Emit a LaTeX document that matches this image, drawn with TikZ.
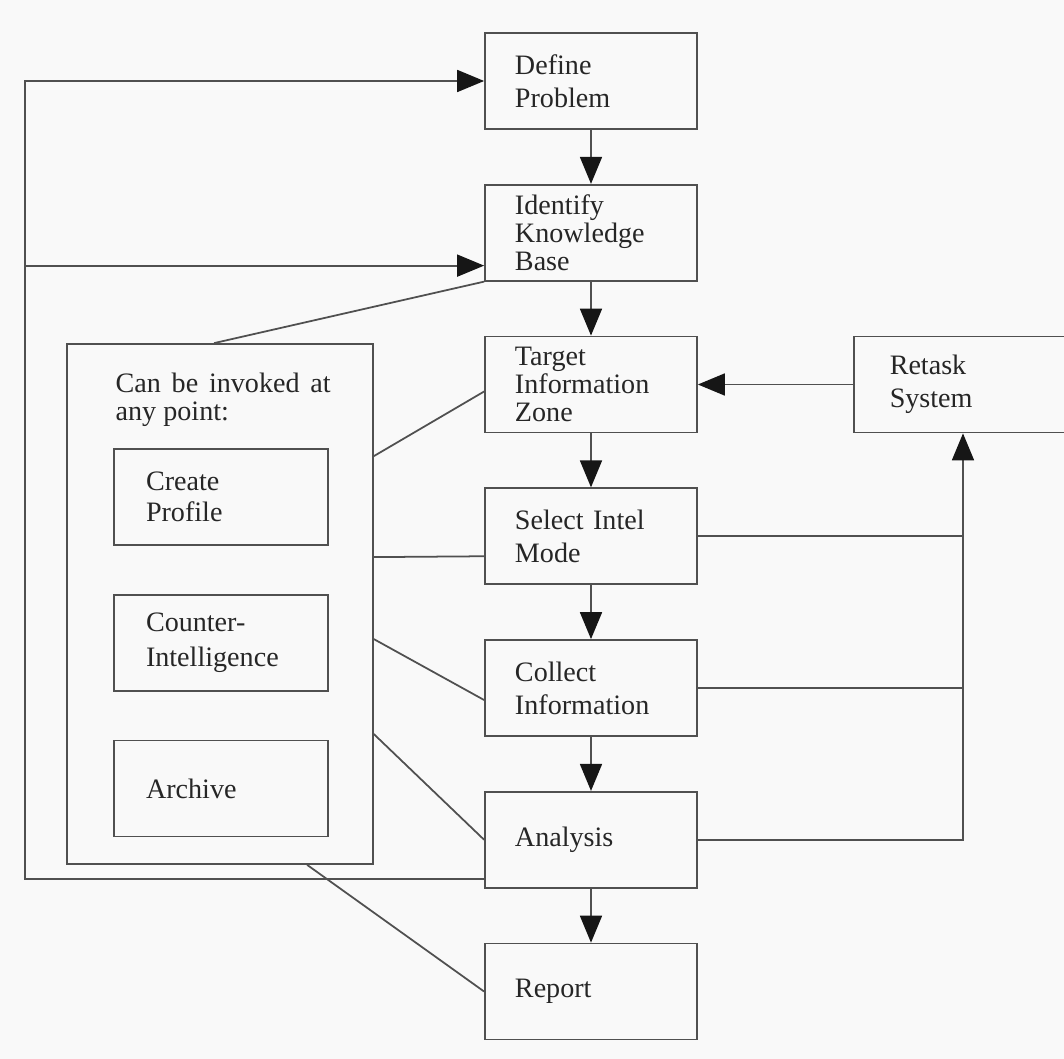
\documentclass[tikz,border=0pt]{standalone}
\usepackage{fontspec}
\setmainfont{Liberation Serif}
\usetikzlibrary{
    arrows.meta,
    positioning,
    calc
}
\definecolor{pagebg}{HTML}{F9F9F9}
\definecolor{linegray}{HTML}{505050}
\definecolor{textgray}{HTML}{262626}
\definecolor{tipblack}{HTML}{161616}

\tikzset{
    stage/.style={rectangle, draw=linegray, line width=0.5pt, minimum width=2.12cm,
        minimum height=0.96cm, inner xsep=0.3cm, inner ysep=0.05cm, text width=1.52cm,
        align=left, text=textgray, font=\fontsize{8}{8}\selectfont},
    tool/.style={stage, minimum width=2.14cm, inner xsep=0.32cm, text width=1.5cm},
    retaskbox/.style={stage, minimum width=2.11cm, inner xsep=0.36cm, text width=1.39cm},
    link/.style={draw=linegray, line width=0.5pt},
    flow/.style={link, -{Triangle[length=0.27cm, width=0.22cm, color=tipblack]}}
}

\begin{document}
\begin{tikzpicture}[node distance=0.54cm]

    % Page
    \useasboundingbox (0,0) rectangle (10.64,10.59);
    \fill[pagebg] (0,0) rectangle (10.64,10.59);

    % Main column
    \node[stage] (define) at (5.91, 9.78) {Define\\[1.4pt]Problem};
    \node[stage, below=of define] (identify) {Identify\\Knowledge\\Base};
    \node[stage, below=of identify] (target) {Target\\Information\\Zone};
    \node[stage, below=of target] (select) {Select Intel\\[1.4pt]Mode};
    \node[stage, below=of select] (collect) {Collect\\[1.4pt]Information};
    \node[stage, below=of collect] (analysis) {Analysis};
    \node[stage, below=of analysis] (report) {Report};

    % Retasking
    \node[retaskbox, right=1.55cm of target] (retask) {Retask\\[1.4pt]System};

    % Tools panel
    \node[rectangle, draw=linegray, line width=0.5pt, minimum width=3.06cm,
          minimum height=5.2cm] (panel) at (2.2, 4.55) {};
    \node[anchor=north west, inner sep=0pt, align=left, text=textgray,
          font=\fontsize{8}{8}\selectfont] (paneltitle) at (1.15, 6.87)
          {\makebox[2.15cm][s]{Can be invoked at}\\any point:};
    \node[tool] (profile) at (2.21, 5.62) {Create\\[1pt]Profile};
    \node[tool, below=0.48cm of profile] (counter) {Counter-\\[1.8pt]Intelligence};
    \node[tool, below=0.48cm of counter] (archive) {Archive};

    % Main flow
    \draw[flow] (define) -- (identify);
    \draw[flow] (identify) -- (target);
    \draw[flow] (target) -- (select);
    \draw[flow] (select) -- (collect);
    \draw[flow] (collect) -- (analysis);
    \draw[flow] (analysis) -- (report);

    % Feedback to retask
    \coordinate (riser) at (9.63, 0);
    \draw[link] (select.east) -- (select.east -| riser);
    \draw[link] (collect.east) -- (collect.east -| riser);
    \draw[flow] (analysis.east) -| (riser |- retask.south);
    \draw[flow] (retask.west) -- (target.east);

    % Loop back
    \coordinate (loopx) at (0.25, 0);
    \draw[flow] ($(analysis.south west)+(0,0.1)$) coordinate (loopstart)
        -- (loopstart -| loopx) |- (define.west);
    \draw[flow] ($(loopx |- identify.south)+(0,0.16)$) -- ($(identify.south west)+(0,0.16)$);

    % Panel links
    \draw[link] ($(panel.north west)+(1.48,0)$) -- (identify.south west);
    \draw[link] ($(panel.north east)+(0,-1.13)$) -- ($(target.west)+(0,-0.07)$);
    \draw[link] ($(panel.north east)+(0,-2.14)$) -- ($(select.west)+(0,-0.2)$);
    \draw[link] ($(panel.north east)+(0,-2.96)$) -- ($(collect.west)+(0,-0.12)$);
    \draw[link] ($(panel.north east)+(0,-3.91)$) -- (analysis.west);
    \draw[link] ($(panel.south west)+(2.41,0)$) -- (report.west);

\end{tikzpicture}
\end{document}
